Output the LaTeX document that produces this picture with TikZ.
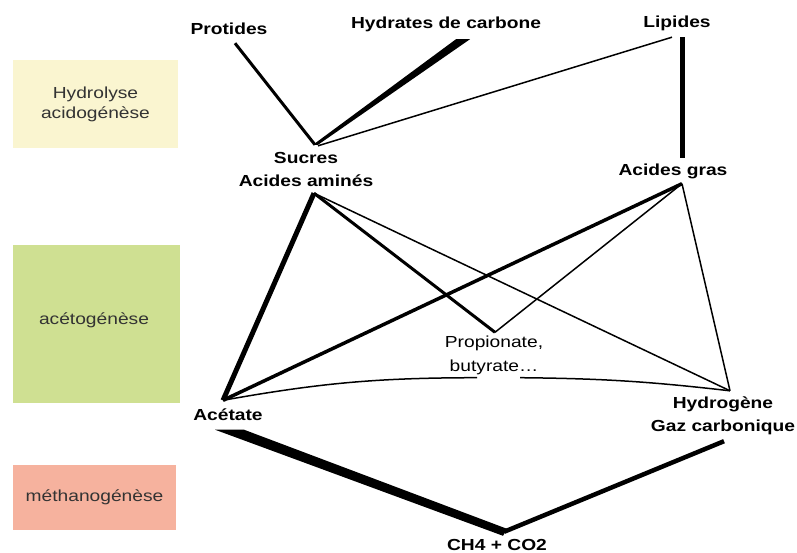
\documentclass[tikz,border=0pt]{standalone}
\usepackage{fontspec}
\setmainfont{Liberation Sans}[FakeStretch=1.2]
\definecolor{yellowbox}{HTML}{FAF5D0}
\definecolor{greenbox}{HTML}{CFE092}
\definecolor{salmonbox}{HTML}{F6B29E}
\definecolor{textgray}{HTML}{333333}
\begin{document}
\begin{tikzpicture}[x=1pt,y=-1pt,
  phase/.style={draw=none, align=center, inner sep=0pt, text=textgray,
    font=\fontsize{16}{20}\selectfont},
  lbl/.style={align=center, inner sep=0pt, font=\fontsize{16}{23}\selectfont\bfseries},
  reg/.style={align=center, inner sep=0pt, font=\fontsize{16}{24}\selectfont},
  thin/.style={line width=1.5pt},
  mid/.style={line width=3pt},
  heavy/.style={line width=5pt}]
\useasboundingbox (0,0) rectangle (797,553);
\fill[white] (0,0) rectangle (797,553);
% phase boxes
\node[phase, fill=yellowbox, minimum width=165pt, minimum height=88pt] (ph1) at (95.5,104) {Hydrolyse\\acidogénèse};
\node[phase, fill=greenbox, minimum width=167pt, minimum height=158pt] (ph2) at (96.5,324) {};
\node[phase] (ph2t) at (94,320) {acétogénèse};
\node[phase, fill=salmonbox, minimum width=163pt, minimum height=65pt] (ph3) at (94.5,497.5) {méthanogénèse};
% nodes
\node[lbl, minimum height=28pt] (prot) at (229,29) {Protides};
\node[lbl, minimum height=30pt] (hdc) at (446,24) {Hydrates de carbone};
\node[lbl, minimum height=28pt] (lip) at (677,23) {Lipides};
\node[lbl, minimum height=48pt] (suc) at (306,169) {Sucres\\Acides aminés};
\node[lbl, minimum height=25pt] (ag) at (673,171) {Acides gras};
\node[reg, minimum height=45pt] (prop) at (494,355) {Propionate,\\butyrate…};
\node[lbl, minimum height=29pt] (ace) at (228,415) {Acétate};
\node[lbl, minimum height=50pt] (hyd) at (723,416) {Hydrogène\\Gaz carbonique};
\node[lbl, minimum height=30pt] (ch4) at (497,545) {CH4 + CO2};
% connectors
\draw[mid] ([xshift=6pt]prot.south) -- ([xshift=9pt]suc.north);
\fill ([xshift=10pt]hdc.south) -- ([xshift=24pt]hdc.south) -- ([xshift=12pt]suc.north) -- ([xshift=7pt]suc.north) -- cycle;
\draw[thin] ([xshift=-5pt]lip.south) -- ([xshift=12pt,yshift=-1pt]suc.north);
\draw[heavy] ([xshift=5pt]lip.south) -- ([xshift=9pt]ag.north);
\draw[heavy] ([xshift=8pt]suc.south) -- ([xshift=-5pt]ace.north);
\draw[mid] ([xshift=8pt]suc.south) -- ([xshift=1pt]prop.north);
\draw[thin] ([xshift=8pt]suc.south) -- ([xshift=7pt]hyd.north);
\draw[line width=3.5pt] ([xshift=9pt]ag.south) -- ([xshift=-5pt]ace.north);
\draw[thin] ([xshift=9pt]ag.south) -- ([xshift=1pt]prop.north);
\draw[thin] ([xshift=9pt]ag.south) -- ([xshift=7pt]hyd.north);
\draw[thin] ([xshift=-5pt]ace.north) to[bend left=5] ([xshift=-17pt]prop.south);
\draw[thin] ([xshift=26pt]prop.south) to[bend left=3] ([xshift=7pt]hyd.north);
\fill ([xshift=-13pt]ace.south) -- ([xshift=16pt]ace.south) -- ([xshift=10pt,yshift=1pt]ch4.north) -- ([xshift=6pt,yshift=-6pt]ch4.north) -- cycle;
\draw[line width=4.5pt] ([xshift=7pt,yshift=-2pt]ch4.north) -- ([xshift=1pt]hyd.south);
\end{tikzpicture}
\end{document}
